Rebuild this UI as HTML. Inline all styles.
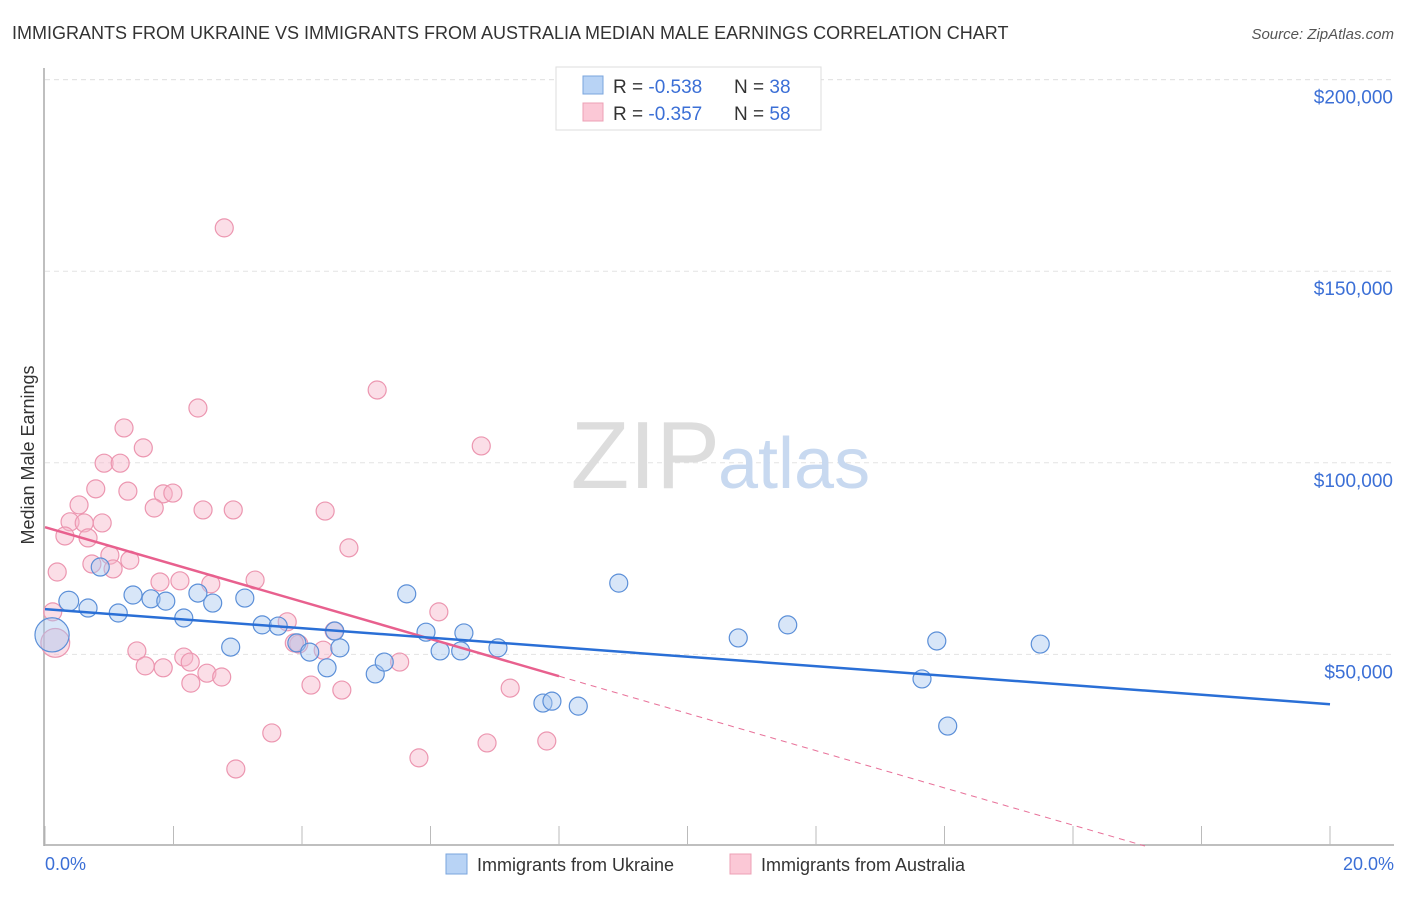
<!DOCTYPE html>
<html><head><meta charset="utf-8"><style>
body{margin:0;background:#fff;font-family:"Liberation Sans",sans-serif}
svg text{font-family:"Liberation Sans",sans-serif}
</style></head><body>
<svg id="chart" width="1406" height="892">
<text x="12" y="39" font-size="18" fill="#333">IMMIGRANTS FROM UKRAINE VS IMMIGRANTS FROM AUSTRALIA MEDIAN MALE EARNINGS CORRELATION CHART</text>
<text x="1394" y="39" font-size="15" fill="#555" text-anchor="end" font-style="italic">Source: ZipAtlas.com</text>
<g id="grid"></g>
<text x="720" y="488" font-size="96" fill="#ddd" text-anchor="end" font-family="Liberation Serif">ZIP</text>
<text x="718" y="488" font-size="72" fill="#c8d9f0">atlas</text>
<g id="marks"></g>
<text transform="translate(34,455) rotate(-90)" font-size="18" fill="#333" text-anchor="middle">Median Male Earnings</text>
<g>
<rect x="556" y="67" width="265" height="63" fill="#fff" stroke="#ddd"/>
<rect x="583" y="76" width="20" height="18" fill="#b8d3f5" stroke="#7aa5dd"/>
<rect x="583" y="103" width="20" height="18" fill="#fbc8d6" stroke="#eda0b5"/>
<text x="613" y="93" font-size="19" fill="#333">R = <tspan fill="#3b6fd6">-0.538</tspan><tspan x="734">N = </tspan><tspan fill="#3b6fd6">38</tspan></text>
<text x="613" y="120" font-size="19" fill="#333">R = <tspan fill="#3b6fd6">-0.357</tspan><tspan x="734">N = </tspan><tspan fill="#3b6fd6">58</tspan></text>
</g>
<text x="45" y="870" font-size="18" fill="#3b6fd6">0.0%</text>
<text x="1394" y="870" font-size="18" fill="#3b6fd6" text-anchor="end">20.0%</text>
<g>
<rect x="446" y="854" width="21" height="20" fill="#b8d3f5" stroke="#7aa5dd"/>
<text x="477" y="871" font-size="18" fill="#333">Immigrants from Ukraine</text>
<rect x="730" y="854" width="21" height="20" fill="#fbc8d6" stroke="#eda0b5"/>
<text x="761" y="871" font-size="18" fill="#333">Immigrants from Australia</text>
</g>
</svg>
<script>
const yTicks=[50000,100000,150000,200000];
const yTickLabels=["$50,000","$100,000","$150,000","$200,000"];
const xTicks=[0,2,4,6,8,10,12,14,16,18,20];
const ukraineX=[0.37,0.67,0.86,1.14,1.37,1.65,1.88,2.16,2.38,2.61,2.89,3.11,3.38,3.63,3.92,4.12,4.59,4.39,4.51,5.14,5.28,5.63,5.93,6.15,6.47,6.52,7.05,7.75,7.89,8.30,8.93,10.79,11.56,13.65,13.88,14.05,15.49,0.11];
const ukraineY=[63900,62100,72800,60800,65500,64500,63900,59500,66000,63400,51900,64700,57700,57400,53000,50600,51700,46500,56100,44900,48000,65800,55800,50900,50900,55600,51700,37300,37800,36500,68600,54300,57700,43600,53500,31300,52700,55100];
const ukraineSize=[1.1,1,1,1,1,1,1,1,1,1,1,1,1,1,1,1,1,1,1,1,1,1,1,1,1,1,1,1,1,1,1,1,1,1,1,1,1,1.9];
const australiaX=[2.79,5.17,2.38,6.79,1.23,1.53,0.92,1.17,0.79,1.29,0.53,1.84,1.99,1.70,2.46,2.93,4.36,0.39,0.61,0.89,0.67,0.31,1.32,1.01,0.73,1.06,4.73,0.19,1.79,2.10,2.58,3.27,6.13,3.77,3.95,4.50,0.12,0.16,1.43,1.56,1.84,2.16,2.26,2.27,2.52,2.75,3.53,2.97,4.14,4.62,5.52,5.82,6.88,7.24,7.81,3.88,4.33];
const australiaY=[161300,119000,114300,104400,109100,103900,99900,99900,93200,92600,89000,91900,92100,88200,87700,87700,87400,84600,84300,84300,80400,80900,74600,75900,73600,72300,77800,71500,68900,69200,68400,69400,61100,58500,52700,56100,61100,53000,50900,47000,46500,49300,48000,42500,45100,44100,29500,20100,42000,40700,48000,23000,26900,41200,27400,53000,51100];
const australiaSize=australiaX.map((v,i)=>i===37?1.6:1);
const ukraineTrend=[61800,37000];
const australiaTrend=[83200,-14000];
const australiaSolidEnd=8;

const X=v=>45+v/20*1285;
const Y=v=>846-v/50000*191.6;
const NS="http://www.w3.org/2000/svg";
function mk(parent,tag,attrs){const e=document.createElementNS(NS,tag);for(const k in attrs)e.setAttribute(k,attrs[k]);parent.appendChild(e);return e;}
const grid=document.getElementById('grid'),marks=document.getElementById('marks');
mk(grid,'line',{x1:45,y1:Y(200000),x2:1394,y2:Y(200000),stroke:'#e3e3e3','stroke-dasharray':'5,4'});
yTicks.forEach((t,i)=>{
 const l=mk(grid,'line',{x1:45,y1:Y(t),x2:1394,y2:Y(t),stroke:'#e3e3e3','stroke-dasharray':'5,4'});
 
 
 const tx=mk(grid,'text',{x:1393,y:Y(t)+24,'font-size':19,fill:'#3b6fd6','text-anchor':'end'});
 tx.textContent=yTickLabels[i];
 
 
});
const ax=mk(grid,'line',{x1:44,y1:68,x2:44,y2:846,stroke:'#aaa','stroke-width':1.5});


const bx=mk(grid,'line',{x1:44,y1:845,x2:1394,y2:845,stroke:'#aaa','stroke-width':1.5});


xTicks.forEach(t=>{
 const l=mk(grid,'line',{x1:X(t),y1:826,x2:X(t),y2:845,stroke:'#bbb'});
 
 
});
function pts(xs,ys,sz,fill,stroke,name){
 xs.forEach((x,i)=>{
  const c=mk(marks,'circle',{cx:X(x),cy:Y(ys[i]),r:9*sz[i],fill:fill,stroke:stroke,'stroke-width':1.2,'fill-opacity':0.45});
  
  
 });
}
pts(australiaX,australiaY,australiaSize,'#f7b6c9','#ec96b0','australia-point');
pts(ukraineX,ukraineY,ukraineSize,'#a9c8f0','#5b8fd8','ukraine-point');
const aAt=x=>australiaTrend[0]+(australiaTrend[1]-australiaTrend[0])*x/20;
const zeroX=-australiaTrend[0]/((australiaTrend[1]-australiaTrend[0])/20);
const ad=mk(marks,'line',{x1:X(australiaSolidEnd),y1:Y(aAt(australiaSolidEnd)),x2:X(zeroX),y2:Y(0),stroke:'#e8729a','stroke-width':1,'stroke-dasharray':'6,5'});


const as=mk(marks,'line',{x1:X(0),y1:Y(aAt(0)),x2:X(australiaSolidEnd),y2:Y(aAt(australiaSolidEnd)),stroke:'#e8608e','stroke-width':2.5});


const ut=mk(marks,'line',{x1:X(0),y1:Y(ukraineTrend[0]),x2:X(20),y2:Y(ukraineTrend[1]),stroke:'#2a6fd6','stroke-width':2.5});


</script>
</body></html>
